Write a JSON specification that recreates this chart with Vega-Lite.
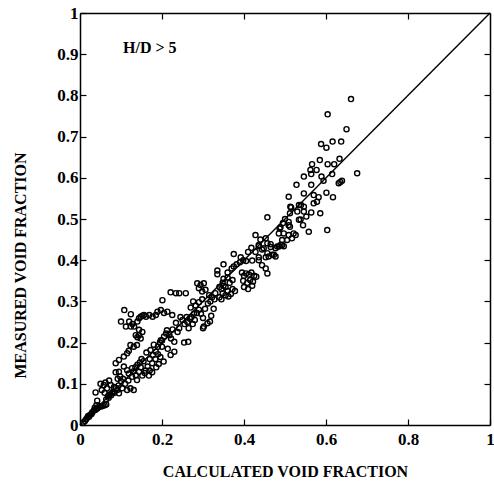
{
 "$schema": "https://vega.github.io/schema/vega-lite/v6.json",
 "width": 410, "height": 412,
 "autosize": {"type": "none"},
 "padding": {"left": 80, "top": 13, "right": 4, "bottom": 62},
 "config": {
  "view": {"stroke": null},
  "axis": {"grid": false, "domainColor": "black", "domainWidth": 1.5, "tickColor": "black", "tickWidth": 1.2,
   "labelColor": "black", "titleColor": "black", "labelFont": "Liberation Serif", "titleFont": "Liberation Serif",
   "labelFontWeight": "bold", "titleFontWeight": "bold", "labelFontSize": 17, "titleFontSize": 16,
   "labelFlush": false, "labelOverlap": false}
 },
 "resolve": {"axis": {"x": "independent", "y": "independent"}},
 "layer": [
  {
   "data": {"values": [
    {"x":0.008,"y":0.006},{"x":0.012,"y":0.010},{"x":0.015,"y":0.014},{"x":0.018,"y":0.018},{"x":0.022,"y":0.020},{"x":0.025,"y":0.025},{"x":0.028,"y":0.027},{"x":0.030,"y":0.031},{"x":0.034,"y":0.035},{"x":0.038,"y":0.037},{"x":0.042,"y":0.040},{"x":0.045,"y":0.043},{"x":0.048,"y":0.046},{"x":0.052,"y":0.045},{"x":0.056,"y":0.047},{"x":0.060,"y":0.048},{"x":0.064,"y":0.050},{"x":0.040,"y":0.048},{"x":0.036,"y":0.042},{"x":0.042,"y":0.059},{"x":0.038,"y":0.079},{"x":0.020,"y":0.022},
    {"x":0.050,"y":0.100},{"x":0.058,"y":0.097},{"x":0.062,"y":0.103},{"x":0.071,"y":0.108},{"x":0.075,"y":0.097},{"x":0.053,"y":0.085},{"x":0.066,"y":0.089},{"x":0.079,"y":0.077},{"x":0.083,"y":0.092},{"x":0.091,"y":0.085},{"x":0.095,"y":0.077},{"x":0.103,"y":0.089},{"x":0.068,"y":0.070},{"x":0.072,"y":0.074},{"x":0.076,"y":0.072},{"x":0.080,"y":0.080},{"x":0.084,"y":0.078},{"x":0.088,"y":0.090},{"x":0.094,"y":0.096},{"x":0.087,"y":0.128},{"x":0.095,"y":0.129},{"x":0.092,"y":0.112},{"x":0.100,"y":0.106},{"x":0.064,"y":0.062},{"x":0.070,"y":0.066},{"x":0.060,"y":0.078},{"x":0.098,"y":0.118},{"x":0.105,"y":0.112},
    {"x":0.087,"y":0.150},{"x":0.095,"y":0.158},{"x":0.107,"y":0.166},{"x":0.115,"y":0.174},{"x":0.119,"y":0.180},{"x":0.123,"y":0.194},{"x":0.131,"y":0.190},{"x":0.139,"y":0.194},{"x":0.144,"y":0.218},{"x":0.152,"y":0.226},{"x":0.148,"y":0.210},{"x":0.108,"y":0.279},{"x":0.124,"y":0.269},{"x":0.100,"y":0.251},{"x":0.112,"y":0.239},{"x":0.120,"y":0.251},{"x":0.124,"y":0.239},{"x":0.132,"y":0.239},{"x":0.140,"y":0.251},{"x":0.144,"y":0.259},{"x":0.148,"y":0.263},{"x":0.152,"y":0.265},{"x":0.156,"y":0.267},{"x":0.144,"y":0.231},{"x":0.136,"y":0.218},{"x":0.140,"y":0.213},{"x":0.128,"y":0.245},
    {"x":0.107,"y":0.142},{"x":0.115,"y":0.133},{"x":0.119,"y":0.125},{"x":0.127,"y":0.138},{"x":0.127,"y":0.117},{"x":0.136,"y":0.121},{"x":0.139,"y":0.109},{"x":0.144,"y":0.129},{"x":0.123,"y":0.089},{"x":0.115,"y":0.085},{"x":0.131,"y":0.085},{"x":0.110,"y":0.100},{"x":0.118,"y":0.108},{"x":0.130,"y":0.130},{"x":0.135,"y":0.140},{"x":0.140,"y":0.146},{"x":0.146,"y":0.152},{"x":0.150,"y":0.160},{"x":0.148,"y":0.140},{"x":0.155,"y":0.155},{"x":0.160,"y":0.132},{"x":0.152,"y":0.120},{"x":0.158,"y":0.126},{"x":0.165,"y":0.142},{"x":0.170,"y":0.160},{"x":0.162,"y":0.176},
    {"x":0.201,"y":0.303},{"x":0.221,"y":0.322},{"x":0.234,"y":0.320},{"x":0.242,"y":0.320},{"x":0.258,"y":0.320},{"x":0.189,"y":0.275},{"x":0.197,"y":0.279},{"x":0.205,"y":0.272},{"x":0.213,"y":0.275},{"x":0.225,"y":0.267},{"x":0.169,"y":0.267},{"x":0.177,"y":0.263},{"x":0.185,"y":0.267},{"x":0.161,"y":0.263},{"x":0.254,"y":0.200},{"x":0.264,"y":0.202},{"x":0.234,"y":0.248},{"x":0.242,"y":0.235},{"x":0.238,"y":0.226},
    {"x":0.172,"y":0.182},{"x":0.178,"y":0.170},{"x":0.185,"y":0.178},{"x":0.190,"y":0.190},{"x":0.195,"y":0.200},{"x":0.200,"y":0.205},{"x":0.205,"y":0.215},{"x":0.210,"y":0.222},{"x":0.212,"y":0.230},{"x":0.218,"y":0.218},{"x":0.222,"y":0.210},{"x":0.200,"y":0.190},{"x":0.190,"y":0.172},{"x":0.184,"y":0.160},{"x":0.196,"y":0.165},{"x":0.204,"y":0.154},{"x":0.214,"y":0.185},{"x":0.221,"y":0.170},{"x":0.226,"y":0.232},{"x":0.230,"y":0.202},{"x":0.176,"y":0.150},{"x":0.170,"y":0.132},{"x":0.186,"y":0.140},{"x":0.192,"y":0.148},{"x":0.180,"y":0.195},{"x":0.168,"y":0.120},{"x":0.230,"y":0.178},{"x":0.197,"y":0.206},{"x":0.176,"y":0.128},
    {"x":0.255,"y":0.245},{"x":0.262,"y":0.250},{"x":0.268,"y":0.258},{"x":0.272,"y":0.262},{"x":0.278,"y":0.270},{"x":0.285,"y":0.272},{"x":0.290,"y":0.280},{"x":0.280,"y":0.255},{"x":0.275,"y":0.245},{"x":0.265,"y":0.235},{"x":0.260,"y":0.262},{"x":0.270,"y":0.285},{"x":0.282,"y":0.290},{"x":0.295,"y":0.270},{"x":0.300,"y":0.260},{"x":0.302,"y":0.239},{"x":0.311,"y":0.247},{"x":0.317,"y":0.251},{"x":0.305,"y":0.282},{"x":0.312,"y":0.295},{"x":0.318,"y":0.300},{"x":0.322,"y":0.310},{"x":0.328,"y":0.305},{"x":0.286,"y":0.344},{"x":0.294,"y":0.340},{"x":0.302,"y":0.344},{"x":0.290,"y":0.332},{"x":0.306,"y":0.328},{"x":0.298,"y":0.324},{"x":0.290,"y":0.298},{"x":0.298,"y":0.305},{"x":0.276,"y":0.300},{"x":0.250,"y":0.255},{"x":0.245,"y":0.262},{"x":0.300,"y":0.235},{"x":0.320,"y":0.265},{"x":0.326,"y":0.282},{"x":0.330,"y":0.320},{"x":0.315,"y":0.315},
    {"x":0.335,"y":0.375},{"x":0.335,"y":0.366},{"x":0.340,"y":0.335},{"x":0.345,"y":0.330},{"x":0.350,"y":0.338},{"x":0.355,"y":0.335},{"x":0.360,"y":0.325},{"x":0.348,"y":0.320},{"x":0.355,"y":0.315},{"x":0.362,"y":0.312},{"x":0.368,"y":0.318},{"x":0.340,"y":0.310},{"x":0.345,"y":0.305},{"x":0.372,"y":0.330},{"x":0.378,"y":0.325},{"x":0.365,"y":0.345},{"x":0.372,"y":0.352},{"x":0.360,"y":0.358},{"x":0.348,"y":0.345},
    {"x":0.350,"y":0.355},{"x":0.360,"y":0.370},{"x":0.370,"y":0.380},{"x":0.375,"y":0.385},{"x":0.382,"y":0.390},{"x":0.390,"y":0.395},{"x":0.398,"y":0.400},{"x":0.405,"y":0.398},{"x":0.375,"y":0.415},{"x":0.392,"y":0.407},
    {"x":0.395,"y":0.370},{"x":0.400,"y":0.362},{"x":0.405,"y":0.368},{"x":0.412,"y":0.365},{"x":0.418,"y":0.370},{"x":0.425,"y":0.362},{"x":0.398,"y":0.350},{"x":0.408,"y":0.345},{"x":0.415,"y":0.352},{"x":0.422,"y":0.348},{"x":0.400,"y":0.335},{"x":0.410,"y":0.330},{"x":0.420,"y":0.338},{"x":0.430,"y":0.360},{"x":0.420,"y":0.399},{"x":0.436,"y":0.400},{"x":0.444,"y":0.388},{"x":0.453,"y":0.380},{"x":0.457,"y":0.368},{"x":0.350,"y":0.390},
    {"x":0.436,"y":0.437},{"x":0.448,"y":0.429},{"x":0.465,"y":0.439},{"x":0.477,"y":0.429},{"x":0.485,"y":0.433},{"x":0.493,"y":0.437},{"x":0.469,"y":0.413},{"x":0.477,"y":0.409},{"x":0.457,"y":0.417},{"x":0.428,"y":0.461},{"x":0.453,"y":0.453},{"x":0.436,"y":0.434},{"x":0.444,"y":0.426},{"x":0.457,"y":0.441},{"x":0.465,"y":0.432},{"x":0.473,"y":0.413},{"x":0.460,"y":0.409},{"x":0.436,"y":0.407},{"x":0.453,"y":0.407},{"x":0.428,"y":0.420},{"x":0.440,"y":0.450},{"x":0.418,"y":0.430},{"x":0.410,"y":0.420},
    {"x":0.509,"y":0.485},{"x":0.489,"y":0.480},{"x":0.485,"y":0.465},{"x":0.497,"y":0.465},{"x":0.509,"y":0.461},{"x":0.521,"y":0.465},{"x":0.493,"y":0.449},{"x":0.505,"y":0.449},{"x":0.517,"y":0.453},{"x":0.526,"y":0.461},{"x":0.481,"y":0.433},{"x":0.489,"y":0.437},{"x":0.497,"y":0.434},{"x":0.457,"y":0.504},{"x":0.512,"y":0.514},{"x":0.530,"y":0.518},{"x":0.534,"y":0.498},{"x":0.538,"y":0.499},{"x":0.544,"y":0.485},{"x":0.552,"y":0.506},{"x":0.546,"y":0.518},{"x":0.487,"y":0.477},{"x":0.512,"y":0.481},{"x":0.509,"y":0.493},{"x":0.500,"y":0.500},{"x":0.495,"y":0.490},
    {"x":0.661,"y":0.791},{"x":0.604,"y":0.754},{"x":0.650,"y":0.718},{"x":0.588,"y":0.682},{"x":0.601,"y":0.673},{"x":0.616,"y":0.688},{"x":0.637,"y":0.688},{"x":0.585,"y":0.643},{"x":0.566,"y":0.633},{"x":0.604,"y":0.633},{"x":0.620,"y":0.633},{"x":0.633,"y":0.646},{"x":0.562,"y":0.619},{"x":0.577,"y":0.619},{"x":0.546,"y":0.603},{"x":0.564,"y":0.609},{"x":0.589,"y":0.603},{"x":0.615,"y":0.609},{"x":0.594,"y":0.593},{"x":0.528,"y":0.583},{"x":0.564,"y":0.583},{"x":0.631,"y":0.587},{"x":0.639,"y":0.593},{"x":0.635,"y":0.590},{"x":0.676,"y":0.611},{"x":0.509,"y":0.554},{"x":0.546,"y":0.562},{"x":0.570,"y":0.558},{"x":0.601,"y":0.564},{"x":0.617,"y":0.553},{"x":0.539,"y":0.534},{"x":0.546,"y":0.530},{"x":0.513,"y":0.530},{"x":0.570,"y":0.538},{"x":0.586,"y":0.514},{"x":0.603,"y":0.473},{"x":0.558,"y":0.469},{"x":0.578,"y":0.542},{"x":0.582,"y":0.553},{"x":0.515,"y":0.528},{"x":0.534,"y":0.534},{"x":0.564,"y":0.516}
   ]},
   "mark": {"type": "point", "shape": "circle", "filled": false, "size": 26, "stroke": "black", "strokeWidth": 1.4, "opacity": 1},
   "encoding": {
    "x": {"field": "x", "type": "quantitative", "scale": {"domain": [0, 1], "nice": false, "zero": false},
     "axis": {"orient": "bottom", "values": [0, 0.2, 0.4, 0.6, 0.8, 1], "format": "~g", "tickSize": -6, "labelPadding": 12,
      "title": "CALCULATED VOID FRACTION", "titleY": 38, "titleBaseline": "top"}},
    "y": {"field": "y", "type": "quantitative", "scale": {"domain": [0, 1], "nice": false, "zero": false},
     "axis": {"orient": "left", "values": [0, 0.1, 0.2, 0.3, 0.4, 0.5, 0.6, 0.7, 0.8, 0.9, 1], "format": "~g", "tickSize": -6, "labelPadding": 8,
      "title": "MEASURED VOID FRACTION", "titleX": -60, "titleY": 252, "titleBaseline": "middle", "titleAlign": "center", "titleAngle": 270}}
   }
  },
  {
   "data": {"values": [{"x": 0, "y": 0}, {"x": 1, "y": 1}]},
   "mark": {"type": "line", "color": "black", "strokeWidth": 1.4},
   "encoding": {
    "x": {"field": "x", "type": "quantitative", "scale": {"domain": [0, 1], "nice": false, "zero": false},
     "axis": {"orient": "top", "values": [0.2, 0.4, 0.6, 0.8], "tickSize": -6, "labels": false, "title": null}},
    "y": {"field": "y", "type": "quantitative", "scale": {"domain": [0, 1], "nice": false, "zero": false},
     "axis": {"orient": "right", "values": [0.1, 0.2, 0.3, 0.4, 0.5, 0.6, 0.7, 0.8, 0.9], "tickSize": -6, "labels": false, "title": null}}
   }
  },
  {
   "data": {"values": [{"x": 0.105, "y": 0.915, "label": "H/D > 5"}]},
   "mark": {"type": "text", "align": "left", "baseline": "middle", "font": "Liberation Serif", "fontWeight": "bold", "fontSize": 16, "color": "black"},
   "encoding": {
    "x": {"field": "x", "type": "quantitative", "scale": {"domain": [0, 1], "nice": false, "zero": false}, "axis": null},
    "y": {"field": "y", "type": "quantitative", "scale": {"domain": [0, 1], "nice": false, "zero": false}, "axis": null},
    "text": {"field": "label"}
   }
  }
 ]
}
